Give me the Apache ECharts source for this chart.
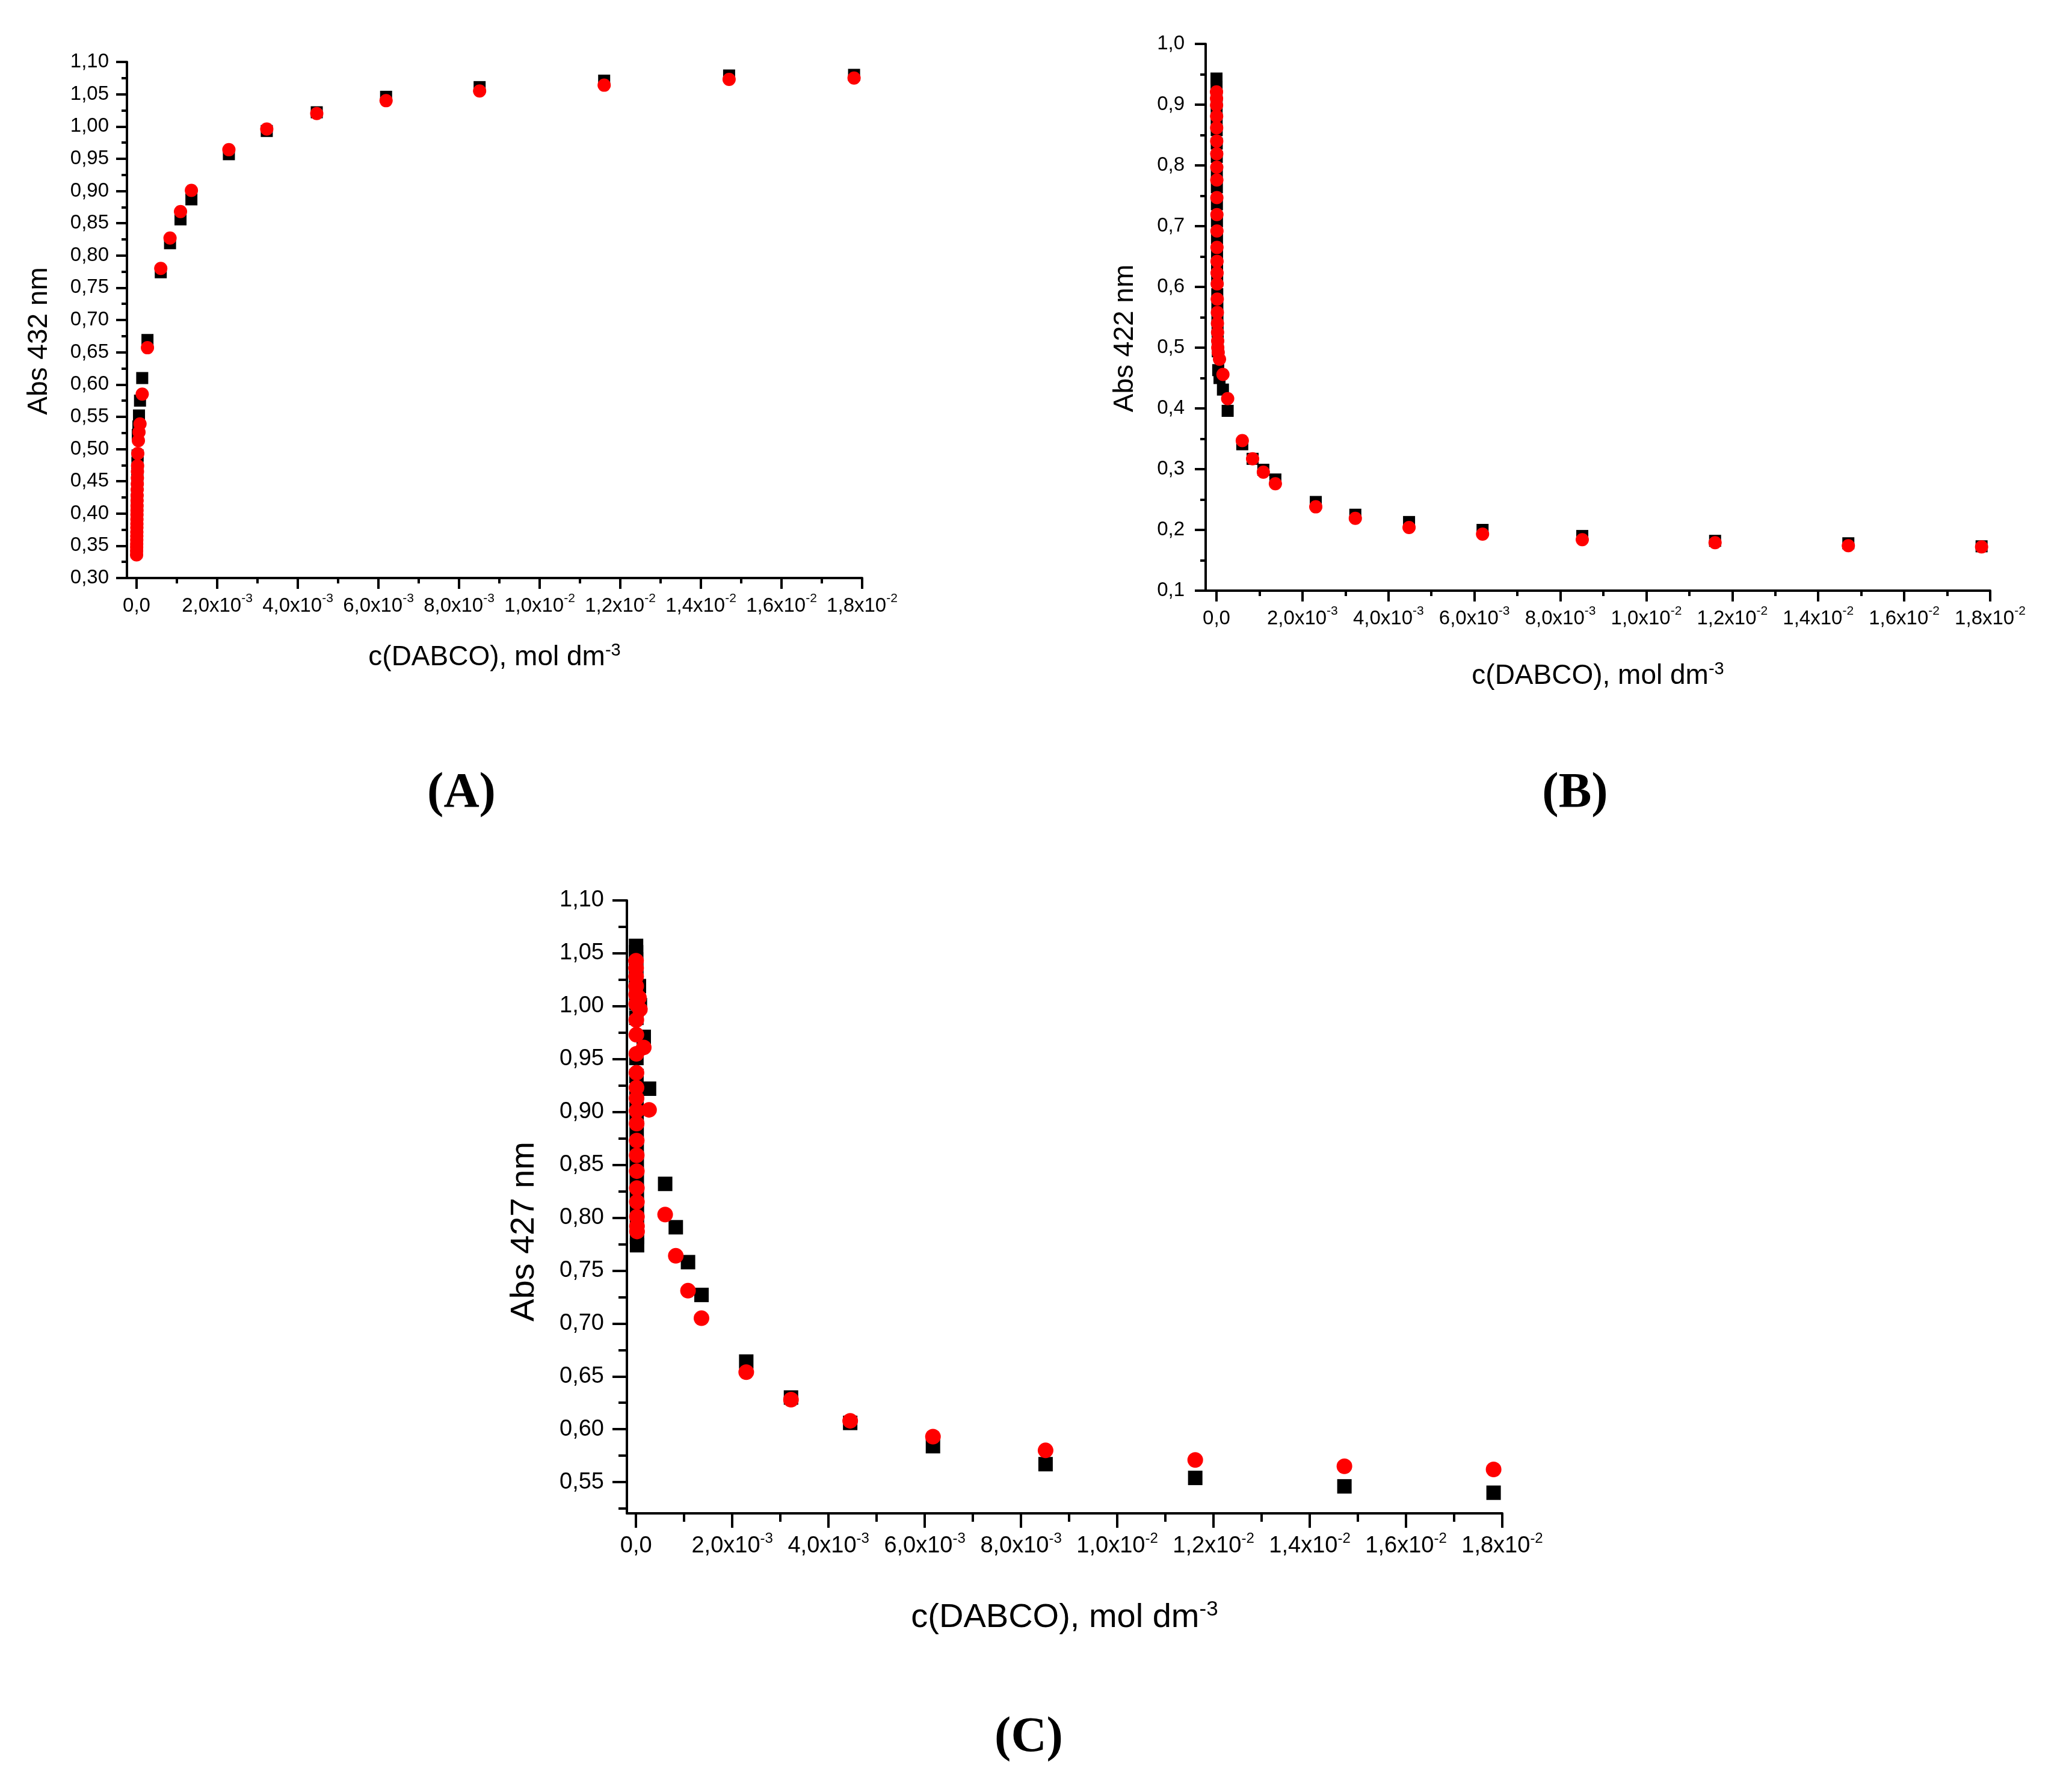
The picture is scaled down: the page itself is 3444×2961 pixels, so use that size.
<!DOCTYPE html>
<html>
<head>
<meta charset="utf-8">
<title>Abs vs c(DABCO)</title>
<script src="https://cdn.jsdelivr.net/npm/echarts@6/dist/echarts.min.js"></script>
<style>
  html, body { margin: 0; padding: 0; background: #fff; }
  #main { width: 3444px; height: 2961px; }
</style>
</head>
<body>
<div id="main"></div>
<script>
// x ticks (mol dm-3), same on all three panels
const xMajor = [0, 0.002, 0.004, 0.006, 0.008, 0.010, 0.012, 0.014, 0.016, 0.018];
const xMinor = [0.001, 0.003, 0.005, 0.007, 0.009, 0.011, 0.013, 0.015, 0.017];
const xMantissa = ['0,0', '2,0', '4,0', '6,0', '8,0', '1,0', '1,2', '1,4', '1,6', '1,8'];
const xExponent = ['', '-3', '-3', '-3', '-3', '-2', '-2', '-2', '-2', '-2'];

// (A) Abs 432 nm
const concA = [0, 0.000001, 0.000002, 0.000003, 0.000004, 0.000005, 0.000006, 0.000007, 0.000008, 0.000009,
  0.00001, 0.000011, 0.000012, 0.000013, 0.000014, 0.000016, 0.000018, 0.00002, 0.000022, 0.000025,
  0.00003, 0.000045, 0.00006, 0.000085, 0.00014, 0.00027,
  0.0006, 0.00083, 0.00109, 0.00136, 0.00229, 0.00323, 0.00447, 0.00619, 0.00851, 0.0116, 0.0147, 0.0178];
const blackA = [0.340, 0.346, 0.352, 0.358, 0.364, 0.370, 0.377, 0.384, 0.391, 0.398,
  0.405, 0.413, 0.421, 0.429, 0.438, 0.447, 0.457, 0.467, 0.478, 0.490,
  0.522, 0.535, 0.552, 0.575, 0.610, 0.669,
  0.774, 0.819, 0.856, 0.887, 0.957, 0.993, 1.022, 1.046, 1.061, 1.071, 1.079, 1.080];
const redA = [0.336, 0.342, 0.348, 0.353, 0.359, 0.365, 0.371, 0.378, 0.384, 0.391,
  0.398, 0.405, 0.412, 0.420, 0.428, 0.437, 0.446, 0.455, 0.465, 0.474,
  0.493, 0.513, 0.526, 0.539, 0.585, 0.657,
  0.780, 0.827, 0.868, 0.901, 0.964, 0.996, 1.020, 1.040, 1.055, 1.064, 1.073, 1.075];
const yMajorA = [0.30, 0.35, 0.40, 0.45, 0.50, 0.55, 0.60, 0.65, 0.70, 0.75, 0.80, 0.85, 0.90, 0.95, 1.00, 1.05, 1.10];
const yMinorA = [0.325, 0.375, 0.425, 0.475, 0.525, 0.575, 0.625, 0.675, 0.725, 0.775, 0.825, 0.875, 0.925, 0.975, 1.025, 1.075];

// (B) Abs 422 nm
const concB = [0, 0.000001, 0.000002, 0.000003, 0.000004, 0.000005, 0.000006, 0.000007, 0.000008, 0.000009,
  0.00001, 0.000011, 0.000012, 0.000013, 0.000014, 0.000016, 0.000018, 0.00002, 0.000022, 0.000025,
  0.000028, 0.00003, 0.00004, 0.00007, 0.00015, 0.00026,
  0.0006, 0.00084, 0.00109, 0.00137, 0.00231, 0.00323, 0.00448, 0.00619, 0.00851, 0.0116, 0.0147, 0.0178];
const blackB = [0.943, 0.930, 0.915, 0.898, 0.878, 0.858, 0.836, 0.814, 0.790, 0.764,
  0.736, 0.708, 0.680, 0.655, 0.632, 0.610, 0.588, 0.566, 0.546, 0.528,
  0.510, 0.494, 0.463, 0.450, 0.431, 0.396,
  0.341, 0.317, 0.299, 0.283, 0.246, 0.225, 0.213, 0.200, 0.190, 0.182, 0.178, 0.173];
const redB = [0.921, 0.910, 0.899, 0.881, 0.862, 0.840, 0.819, 0.797, 0.776, 0.747,
  0.719, 0.692, 0.665, 0.642, 0.623, 0.605, 0.580, 0.558, 0.540, 0.525,
  0.511, 0.500, 0.492, 0.481, 0.456, 0.416,
  0.347, 0.317, 0.295, 0.276, 0.238, 0.219, 0.204, 0.193, 0.184, 0.179, 0.174, 0.172];
const yMajorB = [0.1, 0.2, 0.3, 0.4, 0.5, 0.6, 0.7, 0.8, 0.9, 1.0];
const yMinorB = [0.15, 0.25, 0.35, 0.45, 0.55, 0.65, 0.75, 0.85, 0.95];

// (C) Abs 427 nm
const concC = [0, 0.000001, 0.000002, 0.000003, 0.000004, 0.000005, 0.000006, 0.000007, 0.000008, 0.000009,
  0.00001, 0.000011, 0.000012, 0.000013, 0.000014, 0.000015, 0.000016, 0.000017, 0.000018, 0.000019,
  0.00002, 0.000021, 0.00006, 0.00008, 0.00016, 0.00027,
  0.000605, 0.000826, 0.00108, 0.00136, 0.00229, 0.00322, 0.00445, 0.00617, 0.00851, 0.01162, 0.01472, 0.01782];
const blackC = [1.057, 1.051, 1.044, 1.036, 1.027, 1.017, 1.003, 0.989, 0.951, 0.934,
  0.918, 0.906, 0.894, 0.880, 0.866, 0.851, 0.836, 0.821, 0.806, 0.793,
  0.782, 0.774, 1.019, 1.001, 0.971, 0.922,
  0.832, 0.791, 0.758, 0.727, 0.664, 0.630, 0.606, 0.584, 0.567, 0.554, 0.546, 0.540];
const redC = [1.043, 1.036, 1.028, 1.019, 1.011, 1.002, 0.987, 0.973, 0.955, 0.937,
  0.923, 0.913, 0.901, 0.889, 0.873, 0.859, 0.844, 0.828, 0.815, 0.801,
  0.792, 0.787, 1.008, 0.997, 0.961, 0.902,
  0.803, 0.764, 0.731, 0.705, 0.654, 0.628, 0.608, 0.593, 0.580, 0.571, 0.565, 0.562];
const yMajorC = [0.55, 0.60, 0.65, 0.70, 0.75, 0.80, 0.85, 0.90, 0.95, 1.00, 1.05, 1.10];
const yMinorC = [0.525, 0.575, 0.625, 0.675, 0.725, 0.775, 0.825, 0.875, 0.925, 0.975, 1.025, 1.075];

const FONT = 'Liberation Sans';

const panels = [
  { rect: { left: 211, top: 103, width: 1222, height: 858 }, xMin: -0.000239, yMin: 0.30, yMax: 1.10, dec: 2,
    conc: concA, black: blackA, red: redA, yMajor: yMajorA, yMinor: yMinorA, yName: 'Abs 432 nm',
    fs: 33, sup: 21, nameFs: 46, tick: 18, minor: 9, sq: 20, dot: 22,
    xMargin: 24, yMargin: 30, xGap: 106, yGap: 123, yShift: 35,
    tag: '(A)', tagX: 767, tagY: 1320 },
  { rect: { left: 2004, top: 73, width: 1304, height: 909 }, xMin: -0.000252, yMin: 0.1, yMax: 1.0, dec: 1,
    conc: concB, black: blackB, red: redB, yMajor: yMajorB, yMinor: yMinorB, yName: 'Abs 422 nm',
    fs: 33, sup: 21, nameFs: 46, tick: 18, minor: 9, sq: 20, dot: 22,
    xMargin: 24, yMargin: 35, xGap: 116, yGap: 111, yShift: 35,
    tag: '(B)', tagX: 2618, tagY: 1320 },
  { rect: { left: 1042, top: 1497, width: 1455, height: 1019 }, xMin: -0.00019, yMin: 0.5205, yMax: 1.10, dec: 2,
    conc: concC, black: blackC, red: redC, yMajor: yMajorC, yMinor: yMinorC, yName: 'Abs 427 nm',
    fs: 38, sup: 24, nameFs: 56, tick: 24, minor: 14, sq: 24, dot: 26,
    xMargin: 30, yMargin: 38, xGap: 143, yGap: 142, yShift: 41,
    tag: '(C)', tagX: 1710, tagY: 2890 }
];

const line = { color: '#000', width: 4 };
const grid = [], xAxis = [], yAxis = [], series = [], graphic = [];

panels.forEach((p, i) => {
  const n = panels.length;
  const r = Object.assign({ outerBoundsMode: 'none', containLabel: false }, p.rect);
  grid[i] = r;
  grid[i + n] = Object.assign({}, r);

  const xRich = {
    m: { fontFamily: FONT, fontSize: p.fs, lineHeight: p.fs + 12, color: '#000' },
    s: { fontFamily: FONT, fontSize: p.sup, lineHeight: p.sup, verticalAlign: 'top', color: '#000' }
  };
  xAxis[i] = {
    type: 'value', gridIndex: i, min: p.xMin, max: 0.018, position: 'bottom',
    axisLine: { show: true, onZero: false, lineStyle: line },
    axisTick: { show: true, customValues: xMajor, length: p.tick, lineStyle: line },
    axisLabel: {
      customValues: xMajor, margin: p.xMargin, showMinLabel: true, showMaxLabel: true,
      formatter: v => {
        const k = xMajor.findIndex(t => Math.abs(t - v) < 1e-9);
        if (k < 0) return '';
        return xExponent[k] ? `{m|${xMantissa[k]}x10}{s|${xExponent[k]}}` : `{m|${xMantissa[k]}}`;
      },
      rich: xRich
    },
    splitLine: { show: false },
    name: '{m|c(DABCO), mol dm}{s|-3}', nameLocation: 'middle', nameGap: p.xGap,
    nameTextStyle: {
      rich: {
        m: { fontFamily: FONT, fontSize: p.nameFs, lineHeight: p.nameFs + 6, color: '#000' },
        s: { fontFamily: FONT, fontSize: Math.round(p.nameFs * 0.62), lineHeight: Math.round(p.nameFs * 0.5), verticalAlign: 'top', color: '#000' }
      }
    }
  };
  // second grid on the same rectangle carries the short minor ticks
  xAxis[i + n] = {
    type: 'value', gridIndex: i + n, min: p.xMin, max: 0.018, position: 'bottom',
    axisLine: { show: false, onZero: false }, axisLabel: { show: false }, splitLine: { show: false },
    axisTick: { show: true, customValues: xMinor, length: p.minor, lineStyle: line }
  };
  yAxis[i] = {
    type: 'value', gridIndex: i, min: p.yMin, max: p.yMax, position: 'left',
    axisLine: { show: true, onZero: false, lineStyle: line },
    axisTick: { show: true, customValues: p.yMajor, length: p.tick, lineStyle: line },
    axisLabel: {
      customValues: p.yMajor, margin: p.yMargin, showMinLabel: true, showMaxLabel: true,
      fontFamily: FONT, fontSize: p.fs, color: '#000',
      formatter: v => v.toFixed(p.dec).replace('.', ',')
    },
    splitLine: { show: false },
    name: p.yName, nameLocation: 'middle', nameGap: p.yGap,
    nameTextStyle: { fontFamily: FONT, fontSize: p.nameFs, color: '#000', padding: [0, p.yShift * 2, 0, 0] }
  };
  yAxis[i + n] = {
    type: 'value', gridIndex: i + n, min: p.yMin, max: p.yMax, position: 'left',
    axisLine: { show: false, onZero: false }, axisLabel: { show: false }, splitLine: { show: false },
    axisTick: { show: true, customValues: p.yMinor, length: p.minor, lineStyle: line }
  };

  series.push({
    type: 'scatter', xAxisIndex: i, yAxisIndex: i, symbol: 'rect', symbolSize: p.sq,
    itemStyle: { color: '#000', opacity: 1 }, silent: true,
    data: p.conc.map((c, k) => [c, p.black[k]])
  });
  series.push({
    type: 'scatter', xAxisIndex: i, yAxisIndex: i, symbol: 'circle', symbolSize: p.dot,
    itemStyle: { color: '#ff0000', opacity: 1 }, silent: true,
    data: p.conc.map((c, k) => [c, p.red[k]])
  });

  graphic.push({
    type: 'text', x: p.tagX, y: p.tagY,
    style: { text: p.tag, fontFamily: 'Liberation Serif', fontWeight: 'bold', fontSize: 82,
      fill: '#000', align: 'center', verticalAlign: 'middle' }
  });
});

const chart = echarts.init(document.getElementById('main'), null, { renderer: 'canvas' });
chart.setOption({
  backgroundColor: '#fff',
  animation: false,
  grid, xAxis, yAxis, series, graphic
});
</script>
</body>
</html>
